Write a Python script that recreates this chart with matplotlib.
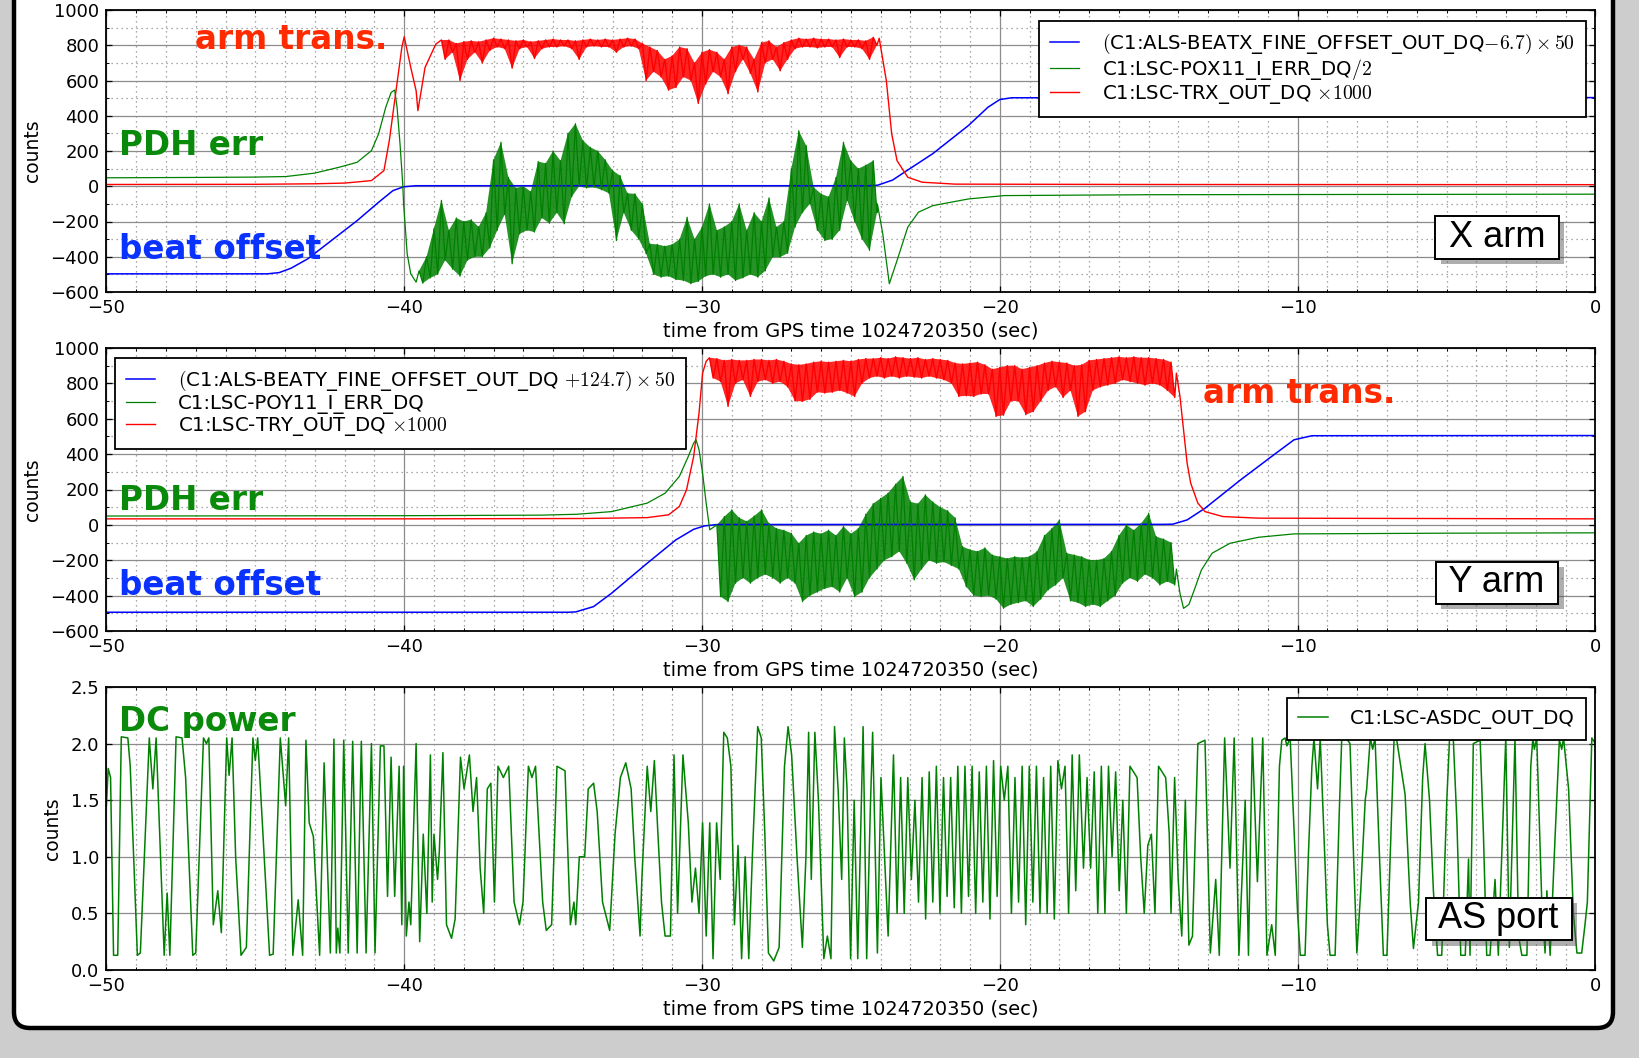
import numpy as np
import matplotlib
matplotlib.use('Agg')
import matplotlib.pyplot as plt
import matplotlib.patheffects as pe
from matplotlib.patches import FancyBboxPatch
from matplotlib.transforms import IdentityTransform
from matplotlib.ticker import MultipleLocator

plt.rcParams['mathtext.fontset'] = 'cm'
plt.rcParams['font.family'] = ['DejaVu Sans']
plt.rcParams['axes.unicode_minus'] = True

# ---------------- data ----------------
BIN = 0.25  # width of the min/max bins used for the dense noisy stretches (s)

# ---- X arm ----
BX_t = [-50, -44.6, -44.2, -43.8, -43.24, -41.58, -40.86, -40.38, -40.02, -39.6,
        -24.4, -24.1, -23.6, -23.2, -22.25, -21.05, -20.4, -20.0, -19.6, 0]
BX_v = [-497, -497, -490, -465, -412, -195, -91, -25, -3, 3,
        3, 6, 35, 80, 185, 345, 448, 492, 502, 503]

GX_pre_t = [-50, -47, -45, -43.98, -43.02, -42.18, -41.58, -41.1, -40.86, -40.62,
            -40.44, -40.32, -40.24, -40.14, -40.05, -40.02, -39.9, -39.78, -39.6]
GX_pre_v = [48, 50, 52, 55, 74, 108, 136, 202, 297, 448,
            532, 546, 448, 240, 13, -100, -383, -497, -544]
GX_band_t0 = -39.5
GX_lo = [-550, -520, -500, -420, -470, -510, -420, -400, -400, -350, -250, -160, -440,
         -270, -250, -260, -180, -210, -150, -213, -60, 0, -10, -6, -20, -40, -308,
         -150, -250, -300, -383, -500, -516, -510, -530, -535, -553, -540, -510, -500,
         -516, -500, -535, -520, -500, -516, -480, -402, -402, -380, -232, -150, -100,
         -250, -308, -300, -250, -81, -200, -300, -364, -150]
GX_hi = [-480, -400, -240, -80, -250, -180, -200, -190, -230, -150, 150, 250, 50,
         -10, 0, -30, 140, 130, 200, 145, 300, 355, 260, 221, 200, 150, 89,
         60, -40, -43, -100, -327, -330, -340, -330, -300, -176, -300, -232, -100,
         -250, -230, -200, -100, -250, -150, -200, -66, -232, -200, 100, 315, 230,
         -6, -43, -60, 50, 250, 145, 100, 120, 145]
GX_post_t = [-24.11, -23.93, -23.71, -23.45, -23.09, -22.73, -22.25, -21.05, -19.85, -15, 0]
GX_post_v = [-100, -270, -553, -421, -232, -147, -110, -72, -53, -48, -45]

RX_pre_t = [-50, -45, -43, -42, -41.1, -40.68, -40.5, -40.32, -40.2, -40.08, -40.0,
            -39.78, -39.6, -39.54, -39.3, -38.94]
RX_pre_v = [10, 11, 14, 18, 32, 89, 259, 485, 636, 787, 848, 674, 542, 429, 674, 806]
RX_band_t0 = -38.75
RX_lo = [720, 760, 600, 720, 760, 700, 770, 790, 780, 670, 780, 790, 725, 780, 790,
         790, 795, 780, 720, 790, 795, 790, 790, 760, 790, 795, 780, 600, 650, 620,
         545, 560, 620, 600, 470, 580, 650, 620, 525, 650, 720, 640, 535, 700, 720,
         655, 720, 780, 790, 790, 785, 790, 790, 730, 790, 790, 780, 720, 800]
RX_hi = [830, 830, 810, 820, 825, 820, 830, 840, 835, 830, 825, 830, 820, 825, 830,
         835, 830, 830, 825, 830, 835, 830, 835, 830, 835, 840, 835, 810, 790, 770,
         720, 740, 790, 780, 700, 760, 775, 760, 720, 790, 800, 790, 720, 815, 825,
         790, 815, 830, 840, 835, 840, 835, 835, 830, 835, 830, 830, 825, 845]
RX_post_t = [-24.05, -23.81, -23.63, -23.45, -23.09, -22.61, -21.5, -15, 0]
RX_post_v = [840, 599, 297, 145, 51, 23, 12, 10, 9]

# ---- Y arm ----
BY_t = [-50, -34.5, -34.24, -33.64, -33.04, -31.84, -30.88, -30.28, -29.92, -29.5,
        -14.5, -14.19, -13.71, -13.11, -11.91, -10.72, -10.12, -9.52, 0]
BY_v = [-494, -494, -492, -462, -387, -217, -85, -25, -6, 2,
        3, 4, 28, 94, 255, 406, 481, 504, 505]

GY_pre_t = [-50, -40, -35.44, -34.2, -33.04, -31.84, -31.24, -30.76, -30.46, -30.28,
            -30.2, -30.1, -29.98, -29.86, -29.74]
GY_pre_v = [50, 52, 55, 60, 75, 123, 179, 274, 387, 462, 481, 425, 292, 123, -28]
GY_band_t0 = -29.5
GY_lo = [-406, -434, -330, -300, -330, -300, -280, -300, -330, -300, -330, -434, -400,
         -380, -360, -350, -380, -300, -406, -380, -300, -250, -200, -180, -150, -217,
         -311, -250, -200, -217, -210, -230, -250, -350, -400, -406, -400, -420, -472,
         -450, -440, -430, -462, -420, -368, -340, -300, -430, -440, -462, -450, -462,
         -430, -400, -330, -300, -320, -280, -300, -340, -320, -340]
GY_hi = [0, 47, 85, 40, 20, 50, 85, 9, -20, -30, -47, -104, -60,
         -40, -50, -30, -60, -9, -50, -20, 60, 120, 150, 180, 230, 274,
         130, 120, 170, 130, 100, 80, 40, -123, -140, -150, -130, -170, -180,
         -190, -180, -185, -179, -150, -60, -20, 28, -160, -170, -180, -198, -200,
         -190, -150, -60, 0, -30, 9, 66, -66, -80, -100]
GY_post_t = [-14.07, -13.95, -13.83, -13.65, -13.47, -13.23, -12.87, -12.27, -11.31, -10.12, -5, 0]
GY_post_v = [-250, -387, -472, -450, -368, -255, -160, -104, -70, -51, -47, -45]

RY_pre_t = [-50, -40, -34, -31.84, -31.12, -30.76, -30.52, -30.28, -30.1, -29.98, -29.86]
RY_pre_v = [34, 34, 36, 41, 57, 104, 198, 387, 632, 858, 925]
RY_band_t0 = -29.75
RY_lo = [830, 810, 670, 800, 820, 726, 810, 820, 800, 810, 780, 700, 698, 710, 750,
         745, 750, 760, 745, 726, 800, 830, 840, 830, 840, 830, 840, 835, 830, 840,
         830, 820, 800, 726, 730, 726, 740, 740, 613, 620, 700, 700, 623, 640, 700,
         760, 780, 720, 760, 613, 640, 760, 780, 790, 800, 820, 810, 800, 790, 800,
         790, 760, 720]
RY_hi = [945, 940, 930, 935, 930, 930, 935, 935, 930, 935, 925, 910, 905, 910, 920,
         925, 920, 925, 930, 925, 935, 940, 940, 945, 940, 950, 945, 940, 945, 935,
         940, 935, 930, 915, 910, 915, 920, 905, 880, 890, 900, 900, 880, 890, 900,
         915, 925, 920, 915, 900, 905, 930, 935, 940, 945, 950, 945, 950, 945, 945,
         940, 935, 920]
RY_post_t = [-14.07, -13.95, -13.83, -13.71, -13.59, -13.35, -13.11, -12.51, -11.31, -5, 0]
RY_post_v = [858, 726, 538, 349, 236, 123, 75, 47, 38, 36, 34]

# ---- AS port DC power (turning points) ----
DC_A_t = [-50.00, -49.94, -49.86, -49.76, -49.62, -49.50, -49.28, -49.20, -48.96, -48.86,
          -48.56, -48.44, -48.33, -48.21, -48.06, -47.96, -47.87, -47.66, -47.46, -47.34,
          -47.10, -47.00, -46.74, -46.64, -46.56, -46.41, -46.26, -46.14, -45.96, -45.88,
          -45.78, -45.66, -45.48, -45.30, -45.08, -45.00, -44.92, -44.70, -44.52, -44.40,
          -44.16, -43.98, -43.88, -43.74, -43.56, -43.41, -43.30, -43.19, -43.05, -42.84,
          -42.69, -42.48, -42.36, -42.28, -42.23, -42.16, -42.03, -41.88, -41.73, -41.58,
          -41.44, -41.28, -41.10, -40.98, -40.80, -40.68, -40.56, -40.44, -40.32, -40.17,
          -40.08, -40.02, -39.93, -39.84, -39.78, -39.60, -39.48, -39.36, -39.24, -39.12,
          -39.06, -39.00, -38.88, -38.82, -38.70, -38.58, -38.41, -38.29, -38.11, -37.99,
          -37.81, -37.69, -37.57, -37.45, -37.33, -37.21, -37.09, -36.97, -36.85, -36.67,
          -36.49, -36.31, -36.13, -36.01, -35.83, -35.71, -35.59, -35.35, -35.23, -35.05,
          -34.87, -34.60, -34.42, -34.30, -34.24, -34.12, -33.94, -33.82, -33.64, -33.52,
          -33.34, -33.10, -32.92, -32.74, -32.56, -32.38, -32.26, -32.08, -32.02, -31.84,
          -31.72, -31.60, -31.48, -31.36, -31.24, -31.06, -30.94, -30.82, -30.64, -30.46,
          -30.34, -30.22, -30.10, -29.98, -29.86, -29.74, -29.63, -29.51, -29.39, -29.27,
          -29.15, -29.03, -28.91, -28.79, -28.67, -28.55, -28.43, -28.31, -28.13, -28.01,
          -27.89, -27.77, -27.59, -27.41, -27.23, -27.11, -26.99, -26.81, -26.63, -26.51,
          -26.42, -26.33, -26.21, -26.09, -25.91, -25.79, -25.67, -25.55, -25.43, -25.31,
          -25.22, -25.13, -25.01, -24.89, -24.77, -24.59, -24.47, -24.35, -24.27, -24.11,
          -23.99, -23.87, -23.75, -23.57, -23.45,
          -23.33, -23.21, -23.09, -22.97, -22.85, -22.73, -22.61, -22.49, -22.37, -22.25,
          -22.13, -22.01, -21.89, -21.77, -21.65, -21.53, -21.41, -21.29, -21.17, -21.05,
          -20.93, -20.81, -20.69, -20.57, -20.45, -20.33, -20.21, -20.09, -19.97, -19.85,
          -19.73, -19.61, -19.49, -19.37, -19.25, -19.13, -19.01, -18.89, -18.77, -18.65,
          -18.53, -18.41, -18.29, -18.17, -18.05, -17.93, -17.81, -17.69, -17.57, -17.45,
          -17.33,
          -17.19, -17.07, -16.95, -16.83, -16.71, -16.59, -16.47, -16.35, -16.23, -16.11,
          -15.99, -15.87, -15.75, -15.63, -15.51, -15.39, -15.27, -15.15, -15.03, -14.91,
          -14.79, -14.67, -14.55, -14.43, -14.31, -14.25, -14.13, -14.01, -13.89, -13.77,
          -13.65, -13.53, -13.35, -13.11, -12.93, -12.75, -12.63, -12.45, -12.27, -12.13,
          -11.97]
DC_A_v = [1.45, 1.78, 1.70, 0.13, 0.13, 2.06, 2.05, 1.80, 0.13, 0.15,
          2.05, 1.60, 2.05, 1.20, 0.13, 0.68, 0.13, 2.06, 2.05, 1.70,
          0.13, 0.15, 2.05, 2.00, 2.05, 0.40, 0.70, 0.33, 2.05, 1.72,
          2.05, 1.00, 0.13, 0.20, 2.05, 1.85, 2.05, 1.00, 0.13, 0.14,
          2.05, 1.45, 2.05, 0.13, 0.62, 0.13, 2.03, 1.30, 1.18, 0.13,
          1.83, 0.15, 2.04, 0.15, 0.37, 0.15, 2.03, 0.15, 2.02, 0.15,
          2.02, 0.15, 2.00, 0.15, 1.98, 1.98, 0.65, 1.88, 0.65, 1.80,
          0.40, 1.80, 0.30, 0.60, 0.40, 2.00, 0.25, 1.20, 0.50, 1.90,
          0.60, 1.20, 0.80, 1.05, 1.92, 0.40, 0.28, 0.45, 1.88, 1.60,
          1.90, 1.40, 1.70, 0.90, 0.50, 1.60, 1.65, 0.60, 1.80, 1.70,
          1.80, 0.60, 0.40, 0.60, 1.80, 1.70, 1.80, 0.60, 0.35, 0.40,
          1.80, 1.76, 0.40, 0.60, 0.40, 1.00, 1.00, 1.60, 1.65, 1.40,
          0.60, 0.35, 1.20, 1.70, 1.83, 1.60, 1.00, 0.30, 0.80, 1.80,
          1.40, 1.85, 1.20, 0.60, 0.30, 0.30, 1.90, 0.50, 1.90, 1.30,
          0.60, 0.90, 0.50, 1.30, 0.30, 1.30, 0.10, 1.30, 0.80, 2.10,
          2.05, 1.80, 0.40, 1.10, 0.10, 1.00, 0.10, 1.00, 2.15, 2.05,
          1.20, 0.15, 0.08, 0.20, 1.80, 2.15, 1.90, 1.00, 0.20, 1.00,
          2.10, 0.80, 2.10, 1.50, 0.10, 0.30, 0.10, 2.15, 1.60, 0.80,
          2.05, 1.60, 0.10, 1.50, 0.10, 2.15, 0.10, 1.40, 2.10, 0.15,
          1.70, 1.00, 0.30, 1.90, 0.50,
          1.70, 0.50, 1.70, 0.80, 1.50, 0.60, 1.70, 0.45, 1.75, 0.60,
          1.80, 0.50, 1.70, 0.65, 1.70, 0.55, 1.80, 0.50, 1.80, 0.65,
          1.80, 0.50, 1.75, 0.60, 1.80, 0.45, 1.85, 0.65, 1.80, 1.50,
          1.80, 0.50, 1.70, 0.60, 1.80, 0.40, 1.80, 0.60, 1.80, 0.50,
          1.70, 0.50, 1.80, 0.45, 1.85, 1.60, 1.80, 0.50, 1.90, 0.70,
          1.90,
          0.90, 1.70, 0.90, 1.75, 0.50, 1.80, 0.50, 1.80, 1.00, 1.75,
          0.70, 1.50, 0.50, 1.80, 1.75, 1.70, 1.00, 0.50, 1.10, 1.20,
          0.50, 1.80, 1.75, 1.70, 1.20, 0.50, 1.70, 0.80, 0.30, 1.50,
          0.22, 0.30, 2.00, 2.03, 0.15, 0.80, 0.13, 2.05, 0.90, 2.05,
          0.13]
DC_B_t = [-11.76, -11.65, -11.52, -11.35, -11.17, -11.03, -10.87, -10.75, -10.61, -10.53,
          -10.42, -10.36, -10.25, -10.16, -10.0, -9.91, -9.75, -9.64, -9.52, -9.45,
          -9.33, -9.24, -9.13, -9.0, -8.91, -8.74, -8.6, -8.52, -8.37, -8.24,
          -8.12, -8.01, -7.88, -7.73, -7.68, -7.56, -7.48, -7.40, -7.25, -7.12,
          -7.0, -6.89, -6.76, -6.67, -6.39, -6.22, -6.11, -5.94, -5.8, -5.72,
          -5.57, -5.44, -5.3, -5.16, -4.99, -4.9, -4.77, -4.65, -4.52, -4.37,
          -4.26, -4.21, -4.1, -3.87, -3.76, -3.65, -3.54, -3.37, -3.26, -3.01,
          -2.89, -2.70, -2.58, -2.47, -2.3, -2.17, -2.1, -2.05, -1.97, -1.8,
          -1.69, -1.63, -1.52, -1.35, -1.21, -1.13, -1.07, -0.9, -0.74, -0.62,
          -0.46, -0.35, -0.27, -0.12, 0.0]
DC_B_v = [1.5, 0.13, 2.05, 0.78, 2.05, 0.13, 0.4, 0.13, 1.8, 2.03,
          2.05, 1.98, 2.05, 1.5, 0.5, 0.13, 0.13, 1.0, 1.8, 2.05,
          1.6, 2.05, 1.3, 0.4, 0.13, 0.13, 1.4, 2.03, 2.05, 2.0,
          1.0, 0.15, 0.7, 1.5, 1.6, 2.05, 1.95, 2.05, 1.0, 0.13,
          0.13, 1.0, 2.05, 2.03, 1.55, 0.6, 0.19, 0.6, 1.7, 2.0,
          1.5, 0.7, 0.13, 0.13, 1.5, 2.03, 2.03, 1.3, 0.13, 0.13,
          0.98, 0.13, 2.0, 2.03, 1.2, 0.13, 0.13, 0.8, 0.13, 2.05,
          0.2, 2.05, 0.3, 0.13, 0.13, 1.8, 2.05, 1.95, 2.05, 0.6,
          0.15, 0.7, 0.13, 1.2, 2.03, 1.95, 2.05, 1.6, 0.5, 0.15,
          0.15, 0.4, 0.6, 2.05, 2.0]

X_TICKS = [-50, -40, -30, -20, -10, 0]
Y_TICKS_ARM = [-600, -400, -200, 0, 200, 400, 600, 800, 1000]
Y_TICKS_DC = [0.0, 0.5, 1.0, 1.5, 2.0, 2.5]
XLABEL = 'time from GPS time 1024720350 (sec)'

LEG_X = [r'$($C1:ALS-BEATX_FINE_OFFSET_OUT_DQ$-6.7)\times50$',
         r'C1:LSC-POX11_I_ERR_DQ$/2$',
         r'C1:LSC-TRX_OUT_DQ $\times1000$']
LEG_Y = [r'$($C1:ALS-BEATY_FINE_OFFSET_OUT_DQ $+124.7)\times50$',
         r'C1:LSC-POY11_I_ERR_DQ',
         r'C1:LSC-TRY_OUT_DQ $\times1000$']
LEG_DC = ['C1:LSC-ASDC_OUT_DQ']


# ---------------- helpers ----------------
def band_xy(t0, lo, hi):
    lo = np.asarray(lo, float)
    hi = np.asarray(hi, float)
    tb = t0 + BIN * np.arange(len(lo))
    return tb, tb + BIN / 2, lo, hi


def trace(pre_t, pre_v, t0, lo, hi, post_t, post_v):
    """smooth part + min/max bins (max, min, max, ...) + smooth part"""
    th, tl, lo, hi = band_xy(t0, lo, hi)
    tz = np.empty(2 * len(lo))
    vz = np.empty(2 * len(lo))
    tz[0::2] = th
    tz[1::2] = tl
    vz[0::2] = hi
    vz[1::2] = lo
    return (np.concatenate([pre_t, tz, post_t]),
            np.concatenate([pre_v, vz, post_v]))


def fill_band(ax, t0, lo, hi, color):
    th, tl, lo, hi = band_xy(t0, lo, hi)
    ax.fill(np.concatenate([th, tl[::-1]]), np.concatenate([hi, lo[::-1]]),
            color=color, alpha=0.85, lw=0)


W, H = 1639, 1058
fig = plt.figure(figsize=(W / 100, H / 100), dpi=100)
fig.patch.set_facecolor('#cdcdcd')
frame = FancyBboxPatch((14, 30), 1599, 1060,
                       boxstyle='round,pad=0,rounding_size=16',
                       transform=IdentityTransform(), fc='white', ec='black',
                       lw=3.2, zorder=-10)
fig.add_artist(frame)


def px_ax(top, bottom):
    return [106.4 / W, 1 - bottom / H, 1489 / W, (bottom - top) / H]


def style(ax, ylim, yticks, yminor):
    ax.set_xlim(-50, 0)
    ax.set_ylim(*ylim)
    ax.set_xticks(X_TICKS)
    ax.xaxis.set_minor_locator(MultipleLocator(1))
    ax.set_yticks(yticks)
    if yminor:
        ax.yaxis.set_minor_locator(MultipleLocator(yminor))
    ax.tick_params(which='both', direction='in', top=True, right=True,
                   labelsize=13, colors='black')
    ax.tick_params(which='major', length=4, width=0.9, pad=5)
    ax.tick_params(which='minor', length=2, width=0.7)
    ax.grid(which='major', color='0.55', lw=0.9, ls='-')
    ax.grid(which='minor', axis='both' if yminor else 'x',
            color='0.55', lw=0.9, ls=(0, (1, 3)))
    ax.set_axisbelow(True)
    for s in ax.spines.values():
        s.set_linewidth(1.3)
    ax.set_xlabel(XLABEL, fontsize=14, labelpad=3)
    ax.set_ylabel('counts', fontsize=13.5, labelpad=6)


def legend(ax, handles, labels, loc, anchor, tpad):
    lg = ax.legend(handles, labels, loc=loc, bbox_to_anchor=anchor,
                   bbox_transform=fig.transFigure, borderaxespad=0,
                   fontsize=14.2, fancybox=False, framealpha=1,
                   edgecolor='black', handlelength=1.5, handletextpad=tpad,
                   borderpad=0.55, labelspacing=0.05)
    lg.get_frame().set_linewidth(1.3)
    return lg


def boxed(x, y, s):
    t = fig.text(x, y, s, ha='center', va='center', fontsize=26,
                 family='Liberation Sans', color='black',
                 bbox=dict(boxstyle='square,pad=0.1', fc='white', ec='black', lw=1.4))
    t.get_bbox_patch().set_path_effects(
        [pe.withSimplePatchShadow(offset=(4, -4), shadow_rgbFace='0.3', alpha=0.45)])


def note(x, y, s, c):
    fig.text(x / W, 1 - y / H, s, fontsize=23.5, fontweight='bold', color=c,
             ha='left', va='baseline', family='DejaVu Sans')


BLUE, GREEN, RED = '#0000ff', '#008000', '#ff0000'

# ---------------- X arm ----------------
ax1 = fig.add_axes(px_ax(10, 292))
style(ax1, (-600, 1000), Y_TICKS_ARM, 100)
gx_t, gx_v = trace(GX_pre_t, GX_pre_v, GX_band_t0, GX_lo, GX_hi, GX_post_t, GX_post_v)
rx_t, rx_v = trace(RX_pre_t, RX_pre_v, RX_band_t0, RX_lo, RX_hi, RX_post_t, RX_post_v)
h1, = ax1.plot(BX_t, BX_v, color=BLUE, lw=1.1)
fill_band(ax1, GX_band_t0, GX_lo, GX_hi, GREEN)
h2, = ax1.plot(gx_t, gx_v, color=GREEN, lw=0.9)
fill_band(ax1, RX_band_t0, RX_lo, RX_hi, RED)
h3, = ax1.plot(rx_t, rx_v, color=RED, lw=1.0)
legend(ax1, [h1, h2, h3], LEG_X, 'upper left', (1039 / W, 1 - 21 / H), 1.15)

# ---------------- Y arm ----------------
ax2 = fig.add_axes(px_ax(348, 631))
style(ax2, (-600, 1000), Y_TICKS_ARM, 100)
gy_t, gy_v = trace(GY_pre_t, GY_pre_v, GY_band_t0, GY_lo, GY_hi, GY_post_t, GY_post_v)
ry_t, ry_v = trace(RY_pre_t, RY_pre_v, RY_band_t0, RY_lo, RY_hi, RY_post_t, RY_post_v)
k1, = ax2.plot(BY_t, BY_v, color=BLUE, lw=1.1)
fill_band(ax2, GY_band_t0, GY_lo, GY_hi, GREEN)
k2, = ax2.plot(gy_t, gy_v, color=GREEN, lw=0.9)
fill_band(ax2, RY_band_t0, RY_lo, RY_hi, RED)
k3, = ax2.plot(ry_t, ry_v, color=RED, lw=1.0)
legend(ax2, [k1, k2, k3], LEG_Y, 'upper left', (115 / W, 1 - 358 / H), 1.15)

# ---------------- AS port ----------------
ax3 = fig.add_axes(px_ax(687, 970))
style(ax3, (0, 2.5), Y_TICKS_DC, None)
d1, = ax3.plot(DC_A_t + DC_B_t, DC_A_v + DC_B_v, color=GREEN, lw=1.1)
legend(ax3, [d1], LEG_DC, 'upper right', (1586 / W, 1 - 698 / H), 1.15)

# ---------------- annotations ----------------
ARM_C, PDH_C, BEAT_C = '#ff2a00', '#0a8a0a', '#0a32ff'
note(195, 49, 'arm trans.', ARM_C)
note(119, 155, 'PDH err', PDH_C)
note(119, 259, 'beat offset', BEAT_C)
note(1203, 403, 'arm trans.', ARM_C)
note(119, 510, 'PDH err', PDH_C)
note(119, 595, 'beat offset', BEAT_C)
note(119, 731, 'DC power', PDH_C)

boxed(1497 / W, 1 - 237.5 / H, ' X arm ')
boxed(1497 / W, 1 - 582.7 / H, ' Y arm ')
boxed(1499 / W, 1 - 919 / H, ' AS port ')

fig.savefig('out.png', dpi=100, facecolor=fig.get_facecolor())
